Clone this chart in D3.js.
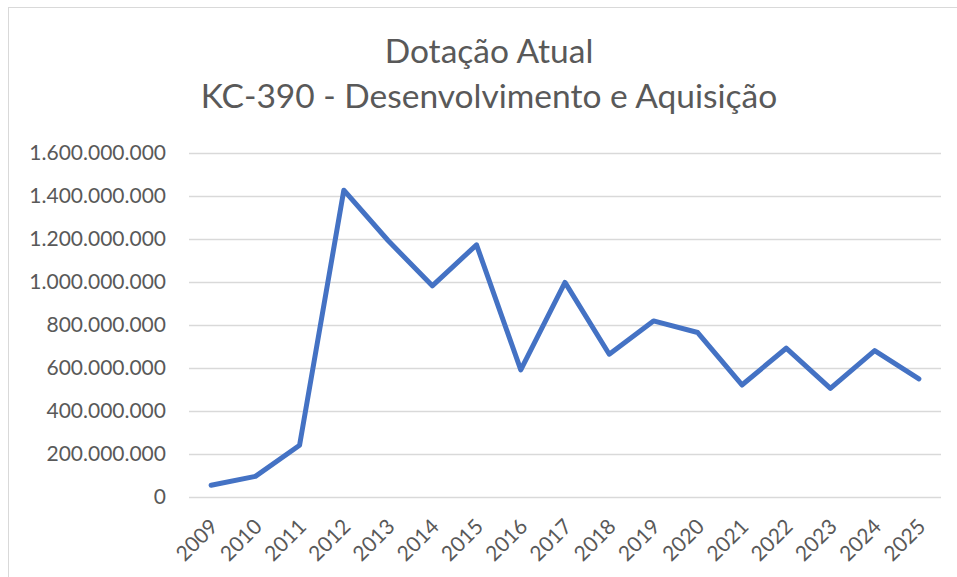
<!DOCTYPE html>
<html>
<head>
<meta charset="utf-8">
<script src="https://cdn.jsdelivr.net/npm/d3@7"></script>
<style>
  body { margin: 0; background: #fff; }
  svg { display: block; font-family: Lato, "Open Sans", sans-serif; }
</style>
</head>
<body>
<div id="chart-area"></div>
<script>
const years = ['2009', '2010', '2011', '2012', '2013', '2014', '2015', '2016', '2017',
    '2018', '2019', '2020', '2021', '2022', '2023', '2024', '2025']
const dotacao = [55e6, 96e6, 241e6, 1427e6, 1193e6, 982e6, 1173e6, 591e6, 998e6,
    664e6, 819e6, 765e6, 521e6, 692e6, 505e6, 681e6, 549e6]
const yTicks = [0, 2e8, 4e8, 6e8, 8e8, 10e8, 12e8, 14e8, 16e8]
const titleLines = ['Dotação Atual', 'KC-390 - Desenvolvimento e Aquisição']

const W = 957
const H = 577
const margin = { left: 189, right: 16, top: 153, bottom: 80 }
const width = W - margin.left - margin.right
const height = H - margin.top - margin.bottom

const svg = d3.select('#chart-area').append('svg')
    .attr('width', W)
    .attr('height', H)

// chart border
svg.append('rect')
    .attr('x', 8.5)
    .attr('y', 7.5)
    .attr('width', W + 20)
    .attr('height', H + 20)
    .attr('fill', '#fff')
    .attr('stroke', '#d9d9d9')

svg.selectAll('.title')
    .data(titleLines)
    .enter().append('text')
    .attr('class', 'title')
    .attr('x', 489)
    .attr('y', (d, i) => 63 + i * 45)
    .attr('text-anchor', 'middle')
    .attr('font-size', '33.5px')
    .attr('fill', '#595959')
    .text(d => d)

const g = svg.append('g')
    .attr('transform', `translate(${margin.left}, ${margin.top})`)

const xScale = d3.scaleBand()
    .domain(years)
    .range([0, width])

const yScale = d3.scaleLinear()
    .domain([0, 16e8])
    .range([height, 0])

const fmt = v => d3.format(',')(v).replace(/,/g, '.')

// y axis: gridlines + labels
const yAxisCall = d3.axisLeft(yScale)
    .tickValues(yTicks)
    .tickSize(-width)
    .tickPadding(23)
    .tickFormat(fmt)

const yAxisGroup = g.append('g')
    .attr('class', 'y axis')
    .call(yAxisCall)
yAxisGroup.select('.domain').remove()
yAxisGroup.selectAll('line')
    .attr('stroke', '#d9d9d9')
    .attr('stroke-width', 1.5)
yAxisGroup.selectAll('text')
    .attr('font-size', '21px')
    .attr('font-family', 'Lato, sans-serif')
    .attr('fill', '#595959')

// x axis labels
const xAxisCall = d3.axisBottom(xScale)
    .tickSize(0)
    .tickPadding(0)
const xAxisGroup = g.append('g')
    .attr('class', 'x axis')
    .attr('transform', `translate(0, ${height})`)
    .call(xAxisCall)
xAxisGroup.select('.domain').remove()
xAxisGroup.selectAll('text')
    .attr('font-size', '21px')
    .attr('font-family', 'Lato, sans-serif')
    .attr('fill', '#595959')
    .attr('text-anchor', 'end')
    .attr('dy', 0)
    .attr('y', 0)
    .attr('transform', 'translate(8, 31) rotate(-45)')

const line = d3.line()
    .x(d => xScale(d.year) + xScale.bandwidth() / 2)
    .y(d => yScale(d.value))

g.append('path')
    .datum(years.map((y, i) => ({ year: y, value: dotacao[i] })))
    .attr('fill', 'none')
    .attr('stroke', '#4472c4')
    .attr('stroke-width', 5)
    .attr('stroke-linejoin', 'round')
    .attr('stroke-linecap', 'round')
    .attr('d', line)
</script>
</body>
</html>
